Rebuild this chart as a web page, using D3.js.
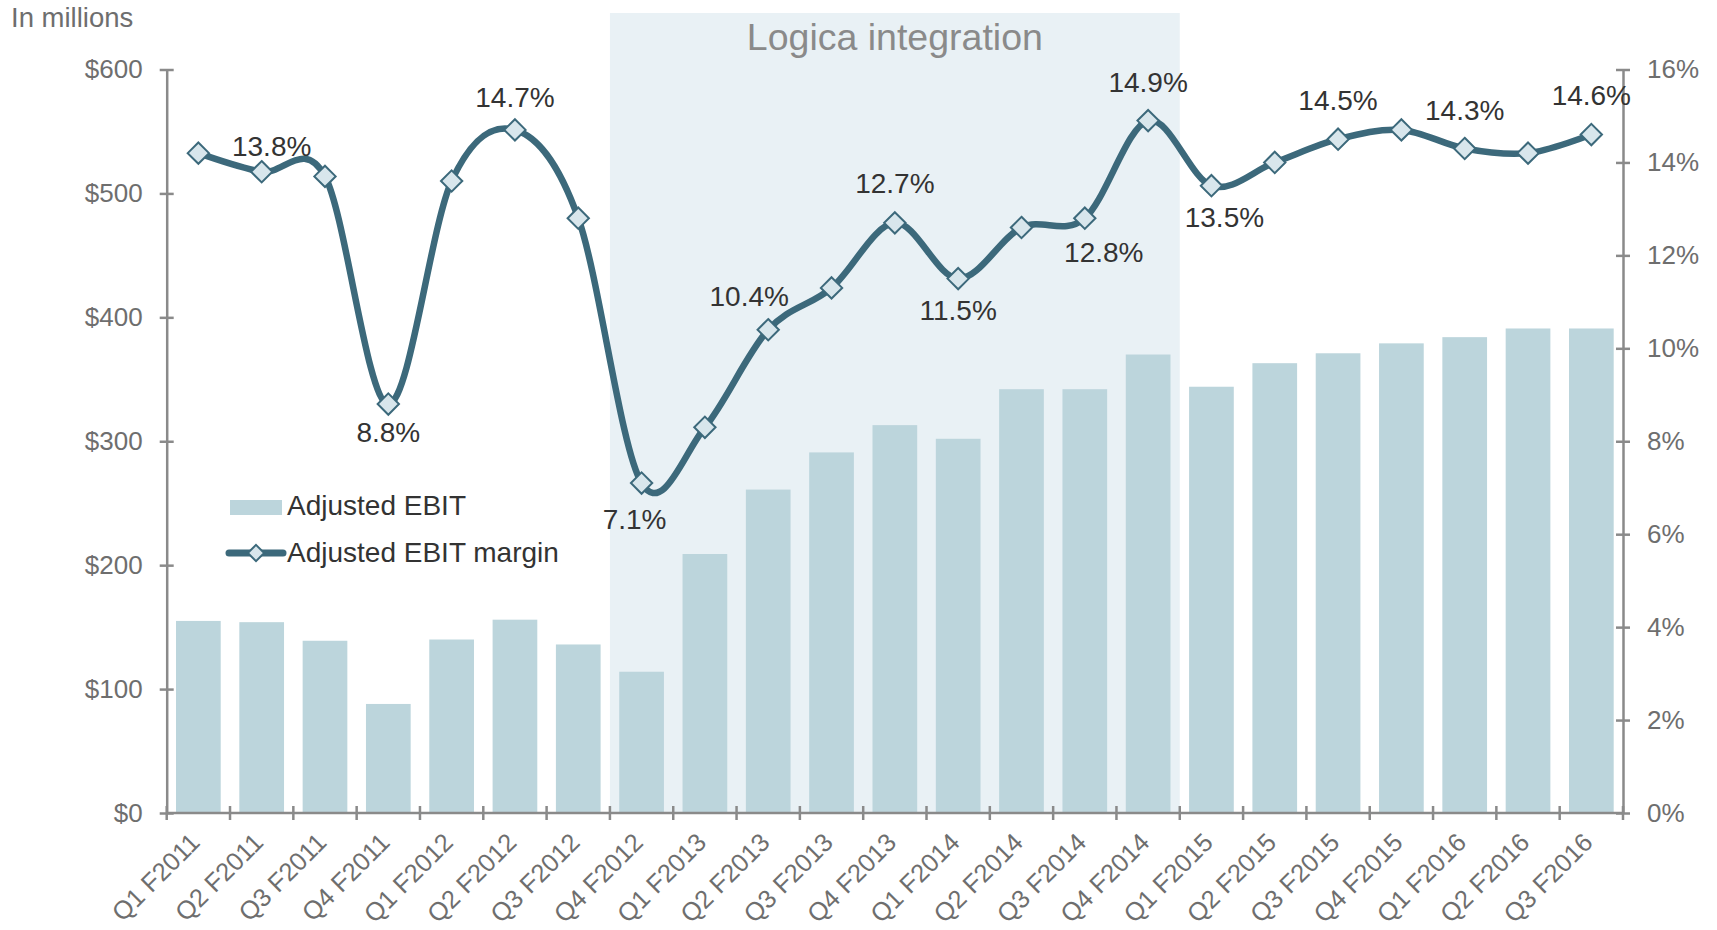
<!DOCTYPE html>
<html>
<head>
<meta charset="utf-8">
<script src="https://cdn.jsdelivr.net/npm/d3@7"></script>
<style>
  html, body { margin: 0; padding: 0; background: #fff; }
  svg { display: block; font-family: "Liberation Sans", Arial, sans-serif; }
</style>
</head>
<body>
<svg id="chart" width="1717" height="930"></svg>
<script>
// ---------------- DATA ----------------
const categories = ["Q1 F2011","Q2 F2011","Q3 F2011","Q4 F2011","Q1 F2012","Q2 F2012","Q3 F2012","Q4 F2012",
  "Q1 F2013","Q2 F2013","Q3 F2013","Q4 F2013","Q1 F2014","Q2 F2014","Q3 F2014","Q4 F2014",
  "Q1 F2015","Q2 F2015","Q3 F2015","Q4 F2015","Q1 F2016","Q2 F2016","Q3 F2016"];
const adjustedEbit = [155,154,139,88,140,156,136,114,209,261,291,313,302,342,342,370,344,363,371,379,384,391,391];
const adjustedEbitMargin = [14.2,13.8,13.7,8.8,13.6,14.7,12.8,7.1,8.3,10.4,11.3,12.7,11.5,12.6,12.8,14.9,13.5,14.0,14.5,14.7,14.3,14.2,14.6];
const labeledPoints = ["Q2 F2011","Q4 F2011","Q2 F2012","Q4 F2012","Q2 F2013","Q4 F2013","Q1 F2014","Q3 F2014","Q4 F2014","Q1 F2015","Q3 F2015","Q1 F2016","Q3 F2016"];
const leftTicks = [0,100,200,300,400,500,600];
const rightTicks = [0,2,4,6,8,10,12,14,16];
const shadedPeriod = ["Q4 F2012","Q4 F2014"];
const shadedLabel = "Logica integration";
const seriesNames = ["Adjusted EBIT","Adjusted EBIT margin"];
const unitLabel = "In millions";

// ---------------- LAYOUT ----------------
const X0 = 166.7, X1 = 1623, YTOP = 69.5, YBOT = 813;
const colors = { bar: "#bcd5dc", line: "#3c697b", marker: "#d8e6ec", shade: "#e9f1f5",
  axis: "#8a8a8a", tick: "#6e6e6e", label: "#333333", title: "#8a8a8a" };
const FONT = "Liberation Sans, Arial, sans-serif";

const svg = d3.select("#chart");
const x = d3.scaleBand().domain(categories).range([X0, X1]).paddingInner(0.294).paddingOuter(0.147);
const xb = d3.scaleBand().domain(categories).range([X0, X1]); // band edges for ticks/shading
const yL = d3.scaleLinear().domain([0, 600]).range([YBOT, YTOP]);
const yR = d3.scaleLinear().domain([0, 16]).range([YBOT, YTOP]);

// shaded region
const sx0 = xb(shadedPeriod[0]), sx1 = xb(shadedPeriod[1]) + xb.bandwidth();
svg.append("rect").attr("x", sx0).attr("y", 13).attr("width", sx1 - sx0).attr("height", YBOT - 13)
  .attr("fill", colors.shade);
svg.append("text").attr("x", (sx0 + sx1) / 2).attr("y", 50).attr("text-anchor", "middle")
  .attr("font-size", 37.5).attr("fill", colors.title).text(shadedLabel);

// bars
svg.append("g").selectAll("rect").data(categories).join("rect")
  .attr("x", d => x(d)).attr("width", x.bandwidth())
  .attr("y", (d, i) => yL(adjustedEbit[i])).attr("height", (d, i) => YBOT - yL(adjustedEbit[i]))
  .attr("fill", colors.bar);

// axes
function styleAxis(g) {
  g.select(".domain").attr("stroke", colors.axis).attr("stroke-width", 2.5);
  g.selectAll(".tick line").attr("stroke", colors.axis).attr("stroke-width", 2.5);
  g.selectAll(".tick text").attr("fill", colors.tick).attr("font-size", 26).attr("font-family", FONT);
}
const gL = svg.append("g").attr("transform", `translate(${X0},0)`)
  .call(d3.axisLeft(yL).tickValues(leftTicks).tickFormat(d => "$" + d).tickSize(7).tickSizeOuter(0).tickPadding(17));
styleAxis(gL);
gL.selectAll(".tick line").attr("x1", -7).attr("x2", 7);

const gR = svg.append("g").attr("transform", `translate(${X1},0)`)
  .call(d3.axisRight(yR).tickValues(rightTicks).tickFormat(d => d + "%").tickSize(7).tickSizeOuter(0).tickPadding(17));
styleAxis(gR);
gR.selectAll(".tick line").attr("x1", -7).attr("x2", 7);

// x axis: line + ticks at band edges
const gX = svg.append("g");
gX.append("line").attr("x1", X0).attr("x2", X1).attr("y1", YBOT).attr("y2", YBOT)
  .attr("stroke", colors.axis).attr("stroke-width", 2.5);
const edges = categories.map(c => xb(c)).concat([X1]);
gX.selectAll("line.t").data(edges).join("line").attr("class", "t")
  .attr("x1", d => d).attr("x2", d => d).attr("y1", YBOT - 7).attr("y2", YBOT + 7)
  .attr("stroke", colors.axis).attr("stroke-width", 2.5);
gX.selectAll("text").data(categories).join("text")
  .attr("transform", d => `translate(${x(d) + x.bandwidth() / 2 - 10},${YBOT + 18}) rotate(-45)`)
  .attr("text-anchor", "end").attr("dy", "0.72em")
  .attr("font-size", 25.5).attr("fill", colors.tick).text(d => d);

// line
const pts = categories.map((c, i) => [x(c) + x.bandwidth() / 2, yR(adjustedEbitMargin[i])]);
svg.append("path").attr("d", d3.line().curve(d3.curveCatmullRom.alpha(0))(pts))
  .attr("fill", "none").attr("stroke", colors.line).attr("stroke-width", 6.5).attr("stroke-linejoin", "round");
const diamond = d3.symbol().type(d3.symbolDiamond2).size(290);
svg.append("g").selectAll("path").data(pts).join("path")
  .attr("d", diamond).attr("transform", d => `translate(${d[0]},${d[1]})`)
  .attr("fill", colors.marker).attr("stroke", colors.line).attr("stroke-width", 2);

// data labels (placement: dx, dy relative to marker)
const labelPlacement = {
  "Q2 F2011": [10, -16], "Q4 F2011": [0, 38], "Q2 F2012": [0, -23], "Q4 F2012": [-7, 46],
  "Q2 F2013": [-19, -24], "Q4 F2013": [0, -30], "Q1 F2014": [0, 41], "Q3 F2014": [19, 44],
  "Q4 F2014": [0, -29], "Q1 F2015": [13, 41], "Q3 F2015": [0, -29], "Q1 F2016": [0, -28], "Q3 F2016": [0, -30]
};
svg.append("g").selectAll("text").data(labeledPoints).join("text")
  .attr("x", d => { const i = categories.indexOf(d); return pts[i][0] + labelPlacement[d][0]; })
  .attr("y", d => { const i = categories.indexOf(d); return pts[i][1] + labelPlacement[d][1]; })
  .attr("text-anchor", "middle").attr("font-size", 28).attr("fill", colors.label)
  .text(d => adjustedEbitMargin[categories.indexOf(d)].toFixed(1) + "%");

// unit label
svg.append("text").attr("x", 11).attr("y", 27).attr("font-size", 27.5).attr("fill", colors.tick).text(unitLabel);

// legend
const lg = svg.append("g");
lg.append("rect").attr("x", 230).attr("y", 500).attr("width", 52).attr("height", 15).attr("fill", colors.bar);
lg.append("text").attr("x", 287).attr("y", 515).attr("font-size", 28).attr("fill", colors.label).text(seriesNames[0]);
lg.append("line").attr("x1", 229).attr("x2", 283).attr("y1", 553).attr("y2", 553)
  .attr("stroke", colors.line).attr("stroke-width", 7).attr("stroke-linecap", "round");
lg.append("path").attr("d", d3.symbol().type(d3.symbolDiamond2).size(170)).attr("transform", "translate(256,553)")
  .attr("fill", colors.marker).attr("stroke", colors.line).attr("stroke-width", 2);
lg.append("text").attr("x", 287).attr("y", 562).attr("font-size", 28).attr("fill", colors.label).text(seriesNames[1]);
</script>
</body>
</html>
